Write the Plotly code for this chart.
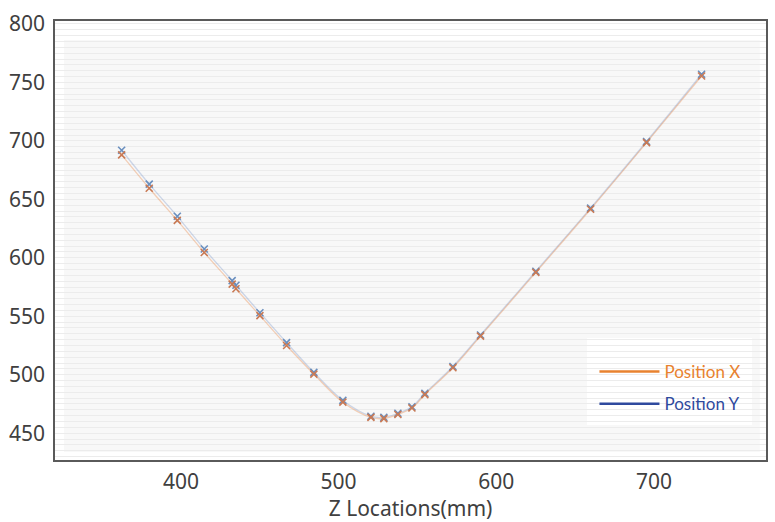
import plotly.graph_objects as go

# Z positions along the rail (mm) and measured X / Y positions
z_loc = [362.4, 379.9, 397.7, 414.8, 432.5, 434.9, 450.1, 467.0, 484.3, 502.7, 520.5,
         528.7, 537.6, 546.5, 554.7, 572.5, 590.0, 625.1, 659.8, 695.3, 730.2]
pos_x = [688.0, 659.5, 632.0, 604.5, 577.5, 573.5, 550.5, 525.0, 500.5, 476.5, 463.5,
         462.5, 466.0, 471.5, 483.0, 506.0, 533.0, 587.5, 641.5, 698.5, 755.5]
pos_y = [692.0, 663.0, 635.5, 607.5, 580.5, 576.5, 553.0, 527.5, 502.0, 478.0, 464.5,
         463.5, 467.0, 472.5, 484.0, 507.0, 534.0, 588.5, 642.5, 699.5, 757.0]

y_ticks = [450, 500, 550, 600, 650, 700, 750, 800]
x_ticks = [400, 500, 600, 700]

orange = "#E8822F"
blue = "#2F4A9E"

fig = go.Figure()

# data traces (thin smoothed lines with small x markers)
fig.add_trace(go.Scatter(
    x=z_loc, y=pos_y, mode="lines+markers", line_shape="spline",
    line=dict(color="rgba(120,150,200,0.35)", width=1.3),
    marker=dict(symbol="x-thin", size=7, line=dict(color="#6A8FBF", width=1.6)),
    showlegend=False, hoverinfo="x+y"))
fig.add_trace(go.Scatter(
    x=z_loc, y=pos_x, mode="lines+markers", line_shape="spline",
    line=dict(color="rgba(232,130,60,0.35)", width=1.3),
    marker=dict(symbol="x-thin", size=7, line=dict(color="#C97A55", width=1.6)),
    showlegend=False, hoverinfo="x+y"))

# legend-only entries
fig.add_trace(go.Scatter(x=[None], y=[None], mode="lines", legendgroup="a",
                         name=f"<span style='color:{orange}'>Position X</span>",
                         line=dict(color=orange, width=2.5)))
fig.add_trace(go.Scatter(x=[None], y=[None], mode="lines", legendgroup="b",
                         name=f"<span style='color:{blue}'>Position Y</span>",
                         line=dict(color=blue, width=2.5)))

# inner light panel and white masks so grid lines stay inside it
panel = dict(x0=0.014, x1=0.990, y0=0.020, y1=0.955)
fig.add_shape(type="rect", xref="paper", yref="paper", layer="below",
              fillcolor="#f8f8f8", line_width=0, **panel)
for x0, x1, y0, y1 in [(0, panel["x0"], 0, 1), (panel["x1"], 1, 0, 1),
                       (0, 1, 0, panel["y0"]), (0, 1, panel["y1"], 1)]:
    fig.add_shape(type="rect", xref="paper", yref="paper", layer="between",
                  x0=x0, x1=x1, y0=y0, y1=y1, fillcolor="white", line_width=0)
# white legend box
fig.add_shape(type="rect", xref="paper", yref="paper", layer="between",
              x0=0.7475, x1=0.979, y0=0.0816, y1=0.279,
              fillcolor="white", line_width=0)
# outer frame
fig.add_shape(type="rect", xref="paper", yref="paper", layer="above",
              x0=0, x1=1, y0=0, y1=1, line=dict(color="#5a5a5a", width=2))

fig.update_layout(
    width=775, height=522,
    margin=dict(l=54, r=8, t=20, b=61),
    paper_bgcolor="white", plot_bgcolor="white",
    font=dict(family="Noto Sans", size=21, color="#404040"),
    legend=dict(x=0.758, y=0.2426, xanchor="left", yanchor="top",
                bgcolor="rgba(0,0,0,0)", borderwidth=0, tracegroupgap=7,
                itemwidth=60,
                font=dict(family="Lato", size=17)),
)

fig.update_xaxes(
    range=[319.5, 771.7], tickvals=x_ticks, showgrid=False, zeroline=False,
    showline=False, automargin=False,
    ticks="", ticklabelstandoff=6,
    title=dict(text="Z Locations(mm)", standoff=2, font=dict(size=21)),
)
fig.update_yaxes(
    range=[426.2, 803.4], tickvals=y_ticks, zeroline=False, automargin=False,
    showgrid=True, gridcolor="#ececec", gridwidth=1,
    minor=dict(dtick=5, tick0=0, showgrid=True, gridcolor="#ececec", gridwidth=1),
    showline=False,
    ticks="", ticklabelstandoff=8,
)

fig.write_html("out.html", config={"displayModeBar": False},
               post_script="document.body.style.margin='0';")
